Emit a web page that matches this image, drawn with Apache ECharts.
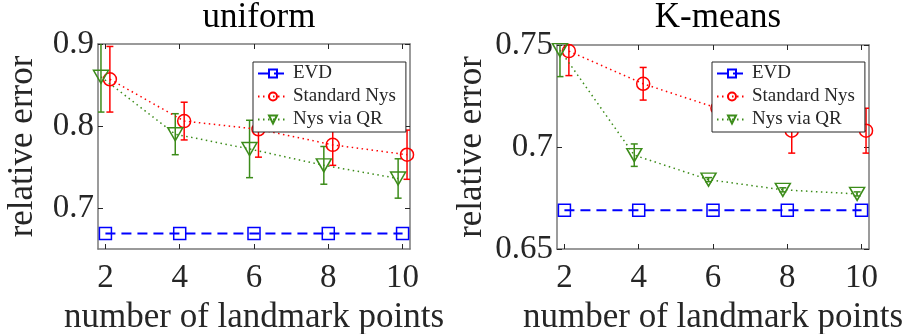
<!DOCTYPE html>
<html>
<head>
<meta charset="utf-8">
<script src="https://cdn.jsdelivr.net/npm/echarts@6/dist/echarts.min.js"></script>
<style>
  html, body { margin: 0; padding: 0; background: #fff; }
  #chart { width: 914px; height: 334px; }
</style>
</head>
<body>
<div id="chart"></div>
<script>
// landmark counts
var xs = [2, 4, 6, 8, 10];
var xTicks = [2, 4, 6, 8, 10];
// small horizontal shift of the two Nystrom series (as in the figure)
var stdShift = 0.12;
var qrShift = -0.12;

// uniform sampling
var uniformEvd = [0.669, 0.669, 0.669, 0.669, 0.669];
var uniformStd = [0.857, 0.806, 0.796, 0.777, 0.765];
var uniformStdErr = [0.040, 0.023, 0.034, 0.025, 0.030];
var uniformQR = [0.860, 0.790, 0.772, 0.752, 0.736];
var uniformQRErr = [0.043, 0.025, 0.035, 0.023, 0.024];
var uniformYTicks = [0.7, 0.8, 0.9];

// K-means sampling
var kmeansEvd = [0.669, 0.669, 0.669, 0.669, 0.669];
var kmeansStd = [0.747, 0.731, 0.719, 0.708, 0.708];
var kmeansStdErr = [0.012, 0.008, 0.011, 0.011, 0.011];
var kmeansQR = [0.7475, 0.696, 0.684, 0.679, 0.677];
var kmeansQRErr = [0.013, 0.0055, 0.001, 0.001, 0.001];
var kmeansYTicks = [0.65, 0.7, 0.75];

var FONT = '"Liberation Serif", "DejaVu Serif", serif';
var TXT = '#262626';
var FRAME = '#7a7a7a';
var BLUE = '#0000ff', RED = '#ff0000', GREEN = '#3c8c1a';
var names = ['EVD', 'Standard Nys', 'Nys via QR'];

var grids = [
  { left: 98, top: 44, width: 312, height: 205, outerBoundsMode: 'none' },
  { left: 557, top: 45, width: 312, height: 204, outerBoundsMode: 'none' }
];
var titles = ['uniform', 'K-means'];
var yRanges = [[0.65, 0.9], [0.65, 0.75]];
var yTicks = [uniformYTicks, kmeansYTicks];
var yNameGaps = [58, 68];

function pts(shift, vals) {
  return vals.map(function (v, i) { return [xs[i] + shift, v]; });
}
function bars(shift, vals, errs) {
  return vals.map(function (v, i) { return [xs[i] + shift, v - errs[i], v + errs[i]]; });
}
function errRender(color) {
  return function (params, api) {
    var x = api.value(0);
    var p1 = api.coord([x, api.value(1)]);
    var p2 = api.coord([x, api.value(2)]);
    var w = 3.5;
    var st = { stroke: color, lineWidth: 1.5 };
    return {
      type: 'group',
      children: [
        { type: 'line', shape: { x1: p1[0], y1: p1[1], x2: p2[0], y2: p2[1] }, style: st },
        { type: 'line', shape: { x1: p1[0] - w, y1: p1[1], x2: p1[0] + w, y2: p1[1] }, style: st },
        { type: 'line', shape: { x1: p2[0] - w, y1: p2[1], x2: p2[0] + w, y2: p2[1] }, style: st }
      ]
    };
  };
}

var xAxes = [], yAxes = [], series = [], titleOpts = [], legends = [];
grids.forEach(function (g, i) {
  titleOpts.push({
    text: titles[i], left: g.left + g.width / 2, top: -5, textAlign: 'center',
    textStyle: { fontFamily: FONT, fontSize: 35, fontWeight: 'normal', color: '#000' }
  });
  var tickStyle = { color: TXT, width: 1 };
  xAxes.push({
    gridIndex: i, type: 'value', min: 1.8, max: 10.2,
    axisLine: { onZero: false, lineStyle: { color: FRAME, width: 1.5 } },
    axisTick: { inside: true, length: 5, customValues: xTicks, lineStyle: tickStyle },
    axisLabel: { customValues: xTicks, fontFamily: FONT, fontSize: 33, color: TXT, margin: 13 },
    splitLine: { show: false },
    name: 'number of landmark points', nameLocation: 'middle', nameGap: 45,
    nameTextStyle: { fontFamily: FONT, fontSize: 35, color: TXT }
  });
  xAxes.push({
    gridIndex: i, type: 'value', min: 1.8, max: 10.2, position: 'top',
    axisLine: { onZero: false, lineStyle: { color: FRAME, width: 1.5 } },
    axisTick: { inside: true, length: 5, customValues: xTicks, lineStyle: tickStyle },
    axisLabel: { show: false }, splitLine: { show: false }
  });
  yAxes.push({
    gridIndex: i, type: 'value', min: yRanges[i][0], max: yRanges[i][1],
    axisLine: { onZero: false, lineStyle: { color: FRAME, width: 1.5 } },
    axisTick: { inside: true, length: 5, customValues: yTicks[i], lineStyle: tickStyle },
    axisLabel: { customValues: yTicks[i], fontFamily: FONT, fontSize: 33, color: TXT, margin: 4 },
    splitLine: { show: false },
    name: 'relative error', nameLocation: 'middle', nameGap: yNameGaps[i],
    nameTextStyle: { fontFamily: FONT, fontSize: 35, color: TXT }
  });
  yAxes.push({
    gridIndex: i, type: 'value', min: yRanges[i][0], max: yRanges[i][1], position: 'right',
    axisLine: { onZero: false, lineStyle: { color: FRAME, width: 1.5 } },
    axisTick: { inside: true, length: 5, customValues: yTicks[i], lineStyle: tickStyle },
    axisLabel: { show: false }, splitLine: { show: false }
  });
  legends.push({
    orient: 'vertical', data: names,
    left: g.left + 155, top: 62,
    padding: [2, 10, 3, 4], itemGap: 4, itemWidth: 30, itemHeight: 10,
    backgroundColor: '#fff', borderColor: '#262626', borderWidth: 1, borderRadius: 0,
    textStyle: { fontFamily: FONT, fontSize: 19, color: TXT }, selectedMode: false
  });
});

var sets = [
  { evd: uniformEvd, std: uniformStd, stdErr: uniformStdErr, qr: uniformQR, qrErr: uniformQRErr },
  { evd: kmeansEvd, std: kmeansStd, stdErr: kmeansStdErr, qr: kmeansQR, qrErr: kmeansQRErr }
];
sets.forEach(function (s, i) {
  var xi = i * 2, yi = i * 2;
  series.push({
    name: names[0], type: 'line', xAxisIndex: xi, yAxisIndex: yi, data: pts(0, s.evd),
    symbol: 'rect', symbolSize: 12,
    itemStyle: { color: 'rgba(0,0,0,0)', borderColor: BLUE, borderWidth: 1.5 },
    lineStyle: { color: BLUE, width: 2, type: [10, 6] }, animation: false, z: 3
  });
  series.push({
    type: 'custom', xAxisIndex: xi, yAxisIndex: yi, data: bars(stdShift, s.std, s.stdErr),
    renderItem: errRender(RED), encode: { x: 0, y: [1, 2] }, clip: true, animation: false, z: 3
  });
  series.push({
    name: names[1], type: 'line', xAxisIndex: xi, yAxisIndex: yi, data: pts(stdShift, s.std),
    symbol: 'circle', symbolSize: 13,
    itemStyle: { color: 'rgba(0,0,0,0)', borderColor: RED, borderWidth: 1.5 },
    lineStyle: { color: RED, width: 1.5, type: [1.5, 3.5] }, animation: false, z: 3
  });
  series.push({
    type: 'custom', xAxisIndex: xi, yAxisIndex: yi, data: bars(qrShift, s.qr, s.qrErr),
    renderItem: errRender(GREEN), encode: { x: 0, y: [1, 2] }, clip: true, animation: false, z: 3
  });
  series.push({
    name: names[2], type: 'line', xAxisIndex: xi, yAxisIndex: yi, data: pts(qrShift, s.qr),
    symbol: 'triangle', symbolRotate: 180, symbolSize: [15, 13],
    itemStyle: { color: 'rgba(0,0,0,0)', borderColor: GREEN, borderWidth: 1.5 },
    lineStyle: { color: GREEN, width: 1.5, type: [1.5, 3.5] }, animation: false, z: 3
  });
});

var chart = echarts.init(document.getElementById('chart'));
chart.setOption({
  animation: false,
  title: titleOpts,
  legend: legends,
  grid: grids,
  xAxis: xAxes,
  yAxis: yAxes,
  series: series
});
</script>
</body>
</html>
